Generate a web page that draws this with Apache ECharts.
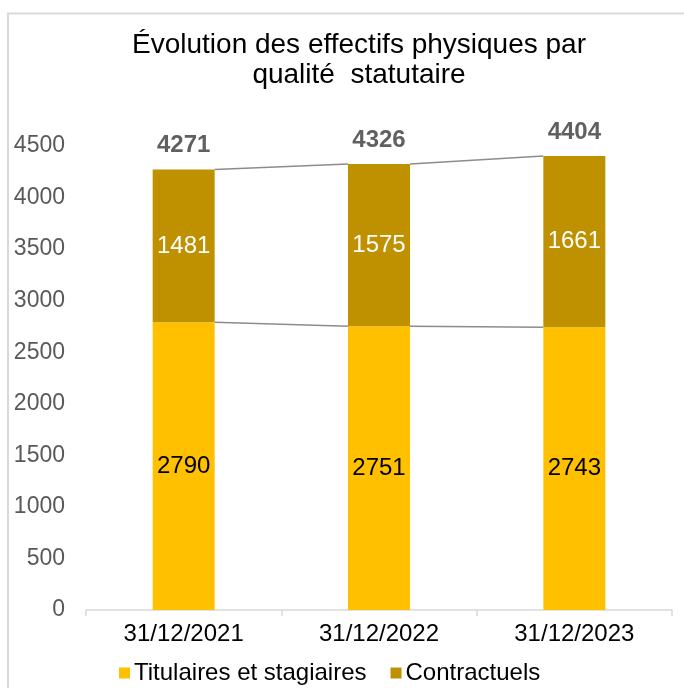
<!DOCTYPE html>
<html>
<head>
<meta charset="utf-8">
<script src="https://cdn.jsdelivr.net/npm/echarts@6/dist/echarts.min.js"></script>
<style>html,body{margin:0;padding:0;background:#fff}#c{width:684px;height:688px}</style>
</head>
<body>
<div id="c"></div>
<script>
const categories = ['31/12/2021', '31/12/2022', '31/12/2023'];
const titulaires = [2790, 2751, 2743];
const contractuels = [1481, 1575, 1661];
const totals = [4271, 4326, 4404];
const yTicks = [0, 500, 1000, 1500, 2000, 2500, 3000, 3500, 4000, 4500];

const FONT = '"Liberation Sans", Arial, sans-serif';
const BAR_W = 62;

function seriesLinePairs(vals) {
  const out = [];
  for (let i = 0; i < vals.length - 1; i++) out.push([i, vals[i], i + 1, vals[i + 1]]);
  return out;
}

function lineRender(params, api) {
  const p1 = api.coord([api.value(0), api.value(1)]);
  const p2 = api.coord([api.value(2), api.value(3)]);
  return {
    type: 'line',
    shape: { x1: p1[0] + BAR_W / 2, y1: p1[1], x2: p2[0] - BAR_W / 2, y2: p2[1] },
    style: { stroke: '#8c8c8c', lineWidth: 1.5 }
  };
}

const chart = echarts.init(document.getElementById('c'), null, { renderer: 'canvas' });
chart.setOption({
  backgroundColor: '#fff',
  animation: false,
  textStyle: { fontFamily: FONT },
  graphic: [{
    type: 'rect',
    shape: { x: 8, y: 13.5, width: 700, height: 700 },
    style: { fill: 'none', stroke: '#d9d9d9', lineWidth: 2 },
    z: -1
  }],
  title: {
    text: 'Évolution des effectifs physiques par\nqualité  statutaire',
    left: 354,
    top: 25,
    textAlign: 'center',
    textStyle: { fontSize: 28, fontWeight: 'normal', color: '#000', lineHeight: 30, fontFamily: FONT }
  },
  legend: {
    data: ['Titulaires et stagiaires', 'Contractuels'],
    left: 114,
    top: 656,
    itemWidth: 11,
    itemHeight: 11,
    itemGap: 24,
    icon: 'rect',
    textStyle: { fontSize: 24, color: '#000', fontFamily: FONT, padding: [0, 0, 0, -1] }
  },
  grid: { left: 86, right: 12, top: 146, bottom: 78 },
  xAxis: {
    type: 'category',
    data: categories,
    axisLine: { lineStyle: { color: '#d9d9d9', width: 1.5 } },
    axisTick: { show: true, length: 6, lineStyle: { color: '#d9d9d9', width: 1.5 } },
    axisLabel: { fontSize: 24, color: '#000', margin: 12, fontFamily: FONT }
  },
  yAxis: {
    type: 'value',
    min: 0,
    max: 4500,
    interval: 500,
    axisLine: { show: false },
    axisTick: { show: false },
    splitLine: { show: false },
    axisLabel: {
      fontSize: 23, color: '#595959', margin: 21, fontFamily: FONT,
      formatter: v => (yTicks.includes(v) ? String(v) : '')
    }
  },
  series: [
    {
      name: 'Titulaires et stagiaires',
      type: 'bar',
      stack: 'tot',
      barWidth: BAR_W,
      data: titulaires,
      itemStyle: { color: '#FFC000' },
      label: { show: true, position: 'inside', fontSize: 24, color: '#000', fontFamily: FONT },
      z: 3
    },
    {
      name: 'Contractuels',
      type: 'bar',
      stack: 'tot',
      barWidth: BAR_W,
      data: contractuels,
      itemStyle: { color: '#BF9000' },
      label: { show: true, position: 'inside', fontSize: 24, color: '#fff', fontFamily: FONT },
      z: 3
    },
    {
      name: 'lines1',
      type: 'custom',
      renderItem: lineRender,
      data: seriesLinePairs(titulaires),
      encode: { x: [0, 2], y: [1, 3] },
      silent: true,
      z: 2
    },
    {
      name: 'lines2',
      type: 'custom',
      renderItem: lineRender,
      data: seriesLinePairs(totals),
      encode: { x: [0, 2], y: [1, 3] },
      silent: true,
      z: 2
    },
    {
      name: 'totals',
      type: 'scatter',
      data: totals.map((v, i) => [i, v]),
      symbolSize: 0,
      silent: true,
      label: {
        show: true, position: 'top', distance: 12,
        fontSize: 24, fontWeight: 'bold', color: '#383838', fontFamily: FONT,
        formatter: p => String(p.value[1])
      },
      z: 4
    }
  ]
});
</script>
</body>
</html>
